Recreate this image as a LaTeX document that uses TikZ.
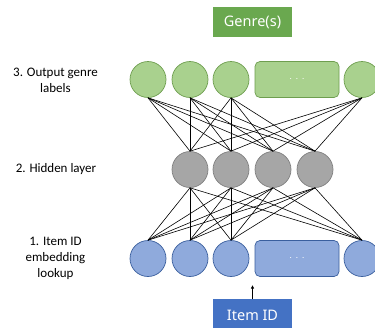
\documentclass[tikz,border=0pt]{standalone}
\usepackage{fontspec}
\setmainfont{Carlito}
\newfontfamily\boxfont{Noto Sans}
\usetikzlibrary{arrows.meta}
\definecolor{outfill}{HTML}{A9D18E}
\definecolor{outline}{HTML}{6E9E4F}
\definecolor{hidfill}{HTML}{A6A6A6}
\definecolor{hidline}{HTML}{808080}
\definecolor{infill}{HTML}{8FAADC}
\definecolor{inline}{HTML}{3A5F9E}
\definecolor{genrefill}{HTML}{6AA84F}
\definecolor{itemfill}{HTML}{4472C4}
\tikzset{
  unit/.style={circle, minimum size=36pt, inner sep=0pt, line width=0.7pt},
  outunit/.style={unit, fill=outfill, draw=outline},
  hidunit/.style={unit, fill=hidfill, draw=hidline},
  inunit/.style={unit, fill=infill, draw=inline},
  dotsbox/.style={rounded corners=5pt, minimum width=84pt, minimum height=36pt,
    inner sep=0pt, line width=0.7pt, text=white, font=\fontsize{9}{9}\selectfont},
  tagbox/.style={minimum width=79pt, minimum height=30pt, inner sep=0pt,
    text=white, font=\boxfont\fontsize{14.5}{16}\selectfont},
  layerlabel/.style={align=center, font=\fontsize{13}{16}\selectfont},
  link/.style={line width=0.6pt, black},
}
\begin{document}
\begin{tikzpicture}[x=1pt, y=-1pt]
\clip (0,0) rectangle (375,327);
\fill[white] (0,0) rectangle (375,327);

% top tag
\node[tagbox, fill=genrefill] (genre) at (252.5,22) {Genre(s)};

% output layer
\node[outunit] (o1) at (148,79.5) {};
\node[outunit] (o2) at (190,79.5) {};
\node[outunit] (o3) at (231,79.5) {};
\node[dotsbox, fill=outfill, draw=outline] (od) at (297,79.5) {.\ \ .\ \ .};
\node[outunit] (o5) at (362,79.5) {};

% hidden layer
\node[hidunit] (h1) at (190,169.5) {};
\node[hidunit] (h2) at (231,169.5) {};
\node[hidunit] (h3) at (273,169.5) {};
\node[hidunit] (h4) at (315,169.5) {};

% input layer
\node[inunit] (i1) at (148,258.5) {};
\node[inunit] (i2) at (190,258.5) {};
\node[inunit] (i3) at (231,258.5) {};
\node[dotsbox, fill=infill, draw=inline] (id) at (297,258.5) {.\ \ .\ \ .};
\node[inunit] (i5) at (362,258.5) {};

% fully connected links
\foreach \o in {o1,o2,o3,o5}
  \foreach \h in {h1,h2,h3,h4}
    \draw[link] (\o.south) -- (\h.north);
\foreach \h in {h1,h2,h3,h4}
  \foreach \i in {i1,i2,i3,i5}
    \draw[link] (\h.south) -- (\i.north);

% bottom tag and input arrow
\node[tagbox, fill=itemfill, minimum height=32pt, anchor=north] (item) at (252.5,299) {\raisebox{-2pt}{Item ID}};
\coordinate (tip) at (252.5,285);
\draw[line width=0.6pt, -{Latex[length=3.5pt,width=3.5pt]}] (item.north) -- (tip);

% layer labels
\node[layerlabel] (l3) at (55.5,80) {3. Output genre\\labels};
\node[layerlabel] (l2) at (56,169) {2. Hidden layer};
\node[layerlabel] (l1) at (55.5,258) {1. Item ID\\embedding\\lookup};
\end{tikzpicture}
\end{document}
